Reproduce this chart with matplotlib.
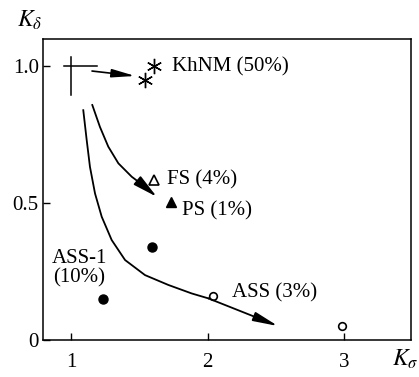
import matplotlib.pyplot as plt

SERIF = 'Liberation Serif'
plt.rcParams['mathtext.fontset'] = 'stix'

# reference cross at (1, 1)
cross_x = [0.95, 1.19]
cross_y = [0.895, 1.035]

# KhNM asterisks
khnm_x = [1.54, 1.61]
khnm_y = [0.95, 1.0]

fs_x, fs_y = [1.61], [0.585]
ps_x, ps_y = [1.73], [0.505]
ass1_x = [1.59, 1.235]
ass1_y = [0.34, 0.15]
ass_x = [2.04, 2.985]
ass_y = [0.16, 0.05]

# curve towards ASS
curve1_x = [1.090, 1.115, 1.139, 1.176, 1.225, 1.298, 1.396, 1.542, 1.713, 1.884, 2.006]
curve1_y = [0.839, 0.730, 0.632, 0.535, 0.450, 0.365, 0.292, 0.237, 0.201, 0.170, 0.152]
curve1_end = (2.516, 0.051)

# curve towards FS/PS
curve2_x = [1.156, 1.212, 1.273, 1.347, 1.445, 1.52]
curve2_y = [0.858, 0.778, 0.706, 0.645, 0.596, 0.568]
curve2_end = (1.628, 0.523)

x_ticks = [1, 2, 3]
y_ticks = [0, 0.5, 1.0]
x_labels = ['1', '2', '3']
y_labels = ['0', '0.5', '1.0']

fig = plt.figure(figsize=(4.19, 3.77), dpi=100)
ax = fig.add_axes([0.1026, 0.0981, 0.8784, 0.7985])

ax.plot(cross_x, [1.0, 1.0], color='black', lw=1.1)
ax.plot([1.0, 1.0], cross_y, color='black', lw=1.1)
ax.annotate('', xy=(1.47, 0.964), xytext=(1.154, 0.982),
            arrowprops=dict(arrowstyle='-|>,head_length=1.4,head_width=0.25',
                            color='black', lw=1.2, shrinkA=0, shrinkB=0))
ax.plot(khnm_x, khnm_y, ls='none', marker=(6, 2, 0), ms=11, mew=1.0, color='black')

ax.plot(curve1_x, curve1_y, color='black', lw=1.3, solid_joinstyle='round')
ax.annotate('', xy=curve1_end, xytext=(curve1_x[-1], curve1_y[-1]),
            arrowprops=dict(arrowstyle='-|>,head_length=1.5,head_width=0.28',
                            color='black', lw=1.3, shrinkA=0, shrinkB=0))
ax.plot(curve2_x, curve2_y, color='black', lw=1.3, solid_joinstyle='round')
ax.annotate('', xy=curve2_end, xytext=(curve2_x[-1], curve2_y[-1]),
            arrowprops=dict(arrowstyle='-|>,head_length=1.5,head_width=0.33',
                            color='black', lw=1.3, shrinkA=0, shrinkB=0))

ax.plot(fs_x, fs_y, ls='none', marker='^', ms=7, mfc='white', mec='black', mew=1.2)
ax.plot(ps_x, ps_y, ls='none', marker='^', ms=7, color='black')
ax.plot(ass1_x, ass1_y, ls='none', marker='o', ms=6.5, color='black')
ax.plot(ass_x, ass_y, ls='none', marker='o', ms=5.5, mfc='white', mec='black', mew=1.2)

fs = 15
ax.text(1.74, 0.996, 'KhNM (50%)', fontsize=fs, va='center', family=SERIF)
ax.text(1.70, 0.584, 'FS (4%)', fontsize=fs, va='center', family=SERIF)
ax.text(1.81, 0.471, 'PS (1%)', fontsize=fs, va='center', family=SERIF)
ax.text(1.06, 0.262, 'ASS-1\n(10%)', fontsize=fs, va='center', ha='center',
        linespacing=1.05, family=SERIF)
ax.text(2.18, 0.172, 'ASS (3%)', fontsize=fs, va='center', family=SERIF)

ax.set_xlim(0.795, 3.49)
ax.set_ylim(0, 1.099)
ax.set_xticks(x_ticks)
ax.set_xticklabels(x_labels, family=SERIF, fontsize=fs)
ax.set_yticks(y_ticks)
ax.set_yticklabels(y_labels, family=SERIF, fontsize=fs)
ax.tick_params(direction='in', length=5, width=1.0)
ax.tick_params(axis='x', pad=9)
ax.tick_params(axis='y', pad=3)
for s in ax.spines.values():
    s.set_linewidth(1.1)

fig.text(17 / 419, 1 - 27 / 377, r'$K_\delta$', fontsize=17, va='baseline')
fig.text(392 / 419, 1 - 366 / 377, r'$K_\sigma$', fontsize=17, va='baseline')

fig.savefig('out.png', dpi=100)
